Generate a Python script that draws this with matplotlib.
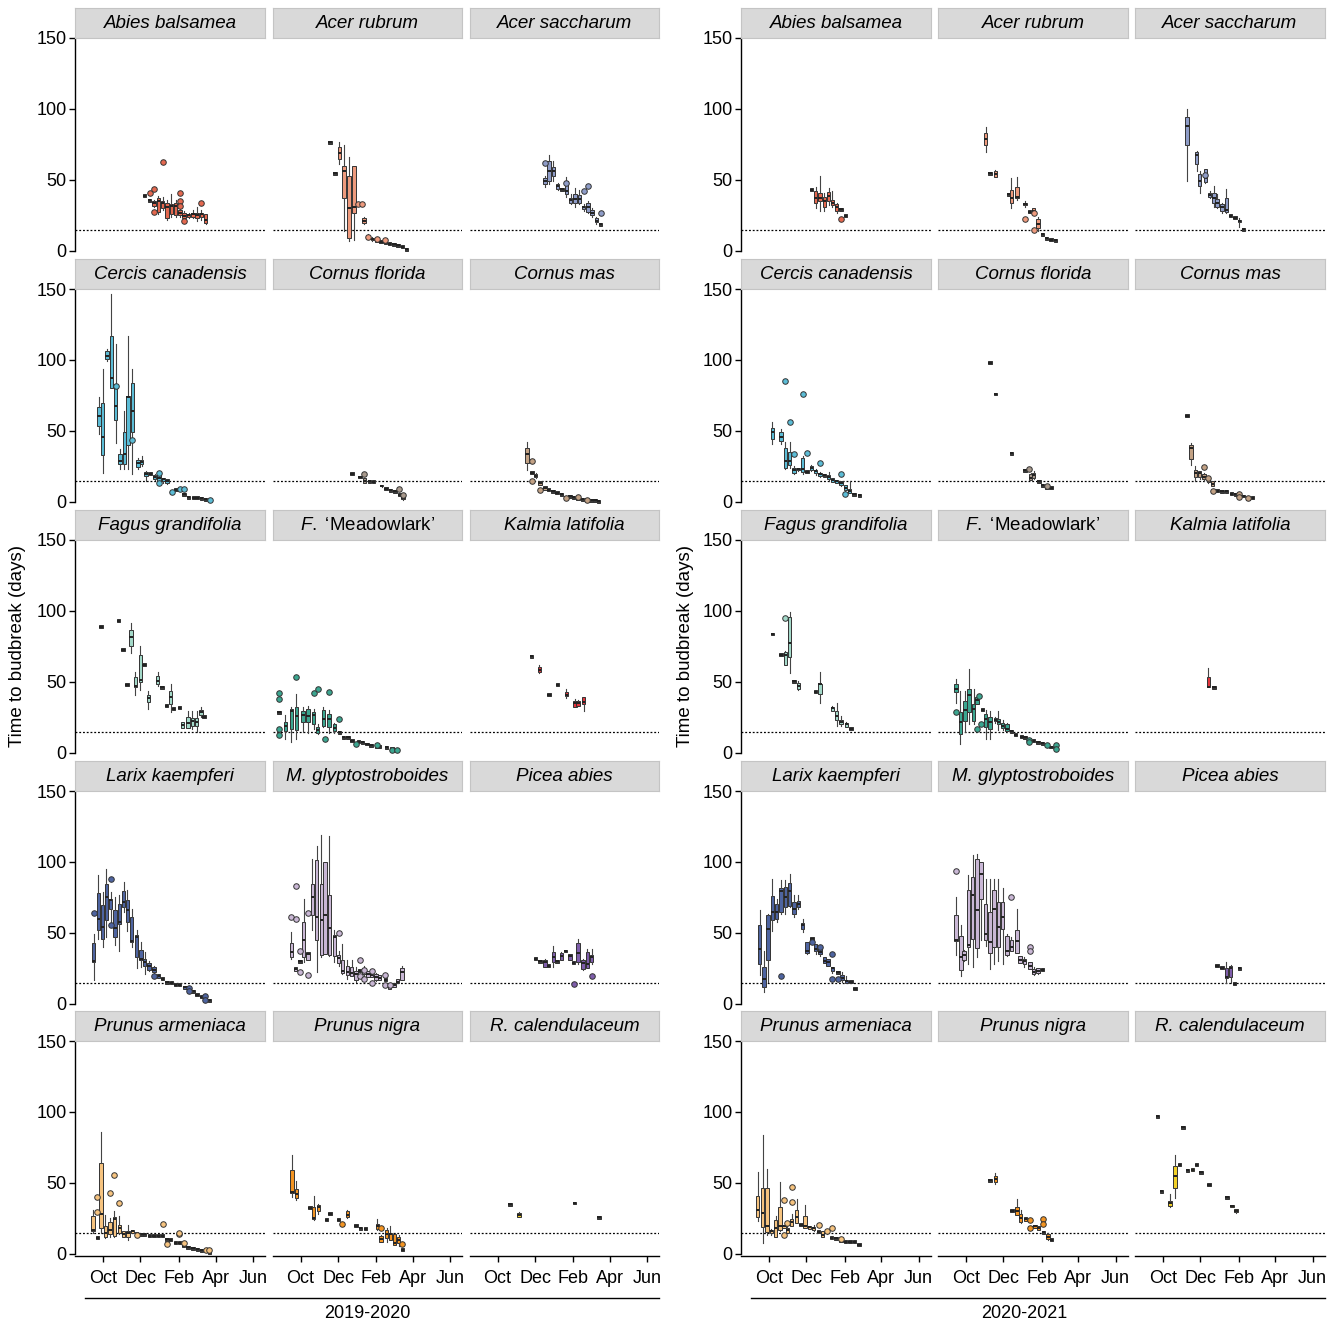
import matplotlib.pyplot as plt
from matplotlib.lines import Line2D

plt.rcParams['font.family'] = ['Liberation Sans', 'DejaVu Sans']
plt.rcParams['mathtext.fontset'] = 'custom'
plt.rcParams['mathtext.it'] = 'Liberation Sans:italic'
plt.rcParams['mathtext.rm'] = 'Liberation Sans'

# ---- data: day since Oct 1; (day, med) or (day, lo, q1, med, q3, hi); outliers (day, value)
species = ["Abies balsamea", "Acer rubrum", "Acer saccharum",
           "Cercis canadensis", "Cornus florida", "Cornus mas",
           "Fagus grandifolia", r"$\mathit{F.}$ ‘Meadowlark’", "Kalmia latifolia",
           "Larix kaempferi", "M. glyptostroboides", "Picea abies",
           "Prunus armeniaca", "Prunus nigra", "R. calendulaceum"]
colors = ["#E4684F", "#EE9A7D", "#8E9CC8",
          "#5BBCD6", "#A8998C", "#C2A184",
          "#A3D9C9", "#3BA690", "#E3343C",
          "#4E64A0", "#C9B7D5", "#7E5DAA",
          "#F6C37F", "#F39422", "#F2D027"]
seasons = ["2019-2020", "2020-2021"]
month_labels = ["Oct", "Dec", "Feb", "Apr", "Jun"]
month_days = {"2019-2020": [0, 61, 123, 183, 244], "2020-2021": [0, 61, 123, 182, 243]}
threshold = 15

abies_1920 = [(68, 38.8), (76, 35.7), (83, 31, 31.5, 33.4, 35, 36), (90, 26, 27.7, 35.3, 37.6, 39),
              (97, 29, 30, 34, 35, 38), (104, 22, 23.5, 30.6, 34, 36), (111, 24, 26, 31.7, 33, 40),
              (118, 24, 25, 31.7, 34, 36), (125, 24, 25, 27, 29, 31), (132, 22, 23.5, 24.7, 27, 28),
              (139, 23, 24, 25, 26, 27), (146, 23, 24, 25.9, 27, 29), (153, 21, 23, 25, 27, 31),
              (160, 22, 24, 25.9, 27, 29), (167, 18.8, 19.5, 22, 25.9, 26)]
abies_1920_out = [(76, 40.7), (83, 43.5), (83, 27.7), (97, 62.8), (125, 40.7), (125, 35.3),
                  (125, 31.7), (132, 21.2), (160, 33.4)]
acru_1920 = [(48, 76.6), (56, 54.8), (63, 61, 64.7, 68.9, 72.9, 76.4), (71, 14, 37.6, 56.4, 59.5, 74.5),
             (79, 7, 9.4, 30, 52.9, 65.8), (87, 8, 27, 31, 60, 60), (103, 18.8, 19.5, 21.2, 23.5, 24),
             (110, 8.5, 9, 9.9, 10.5, 12), (117, 7, 7.5, 8.2, 9, 10), (124, 6, 6.5, 7.5, 8, 9),
             (131, 6.5), (138, 6), (145, 5), (152, 4.5), (159, 4), (166, 2.8), (173, 1.2)]
acru_1920_out = [(94, 33), (100, 33), (110, 10), (124, 8.5), (138, 8)]
acsa_1920 = [(77, 45, 47, 49, 51.7, 53), (84, 47, 49.4, 56.4, 63, 67.7), (91, 49.4, 52.9, 56.4, 58.8, 63),
             (98, 43, 43.5, 45.4, 47, 48), (105, 43.5), (112, 38, 40.4, 42.3, 49.4, 52),
             (119, 33, 34, 35.7, 37.6, 40), (126, 31, 34, 36.4, 40.4, 44), (133, 33, 34, 36.4, 39.5, 43),
             (140, 28, 29.4, 30.6, 31.7, 33), (147, 27, 27.5, 30.6, 34, 35), (154, 24, 25, 27, 29, 30),
             (161, 19, 20, 21, 23.5, 24), (168, 18.8)]
acsa_1920_out = [(77, 61.8), (112, 47.5), (140, 42.3), (147, 45.8), (168, 27)]

cercis_1920 = [(-6, 47.7, 53.6, 60.2, 67, 73.7), (0, 20.6, 33, 45.8, 69.5, 93.8), (7, 99, 101, 103, 106, 108),
               (14, 80, 80.3, 87.4, 116.7, 146.5), (21, 41.8, 57.6, 67.8, 82.7, 111), (28, 23, 27, 28.8, 33.5, 37),
               (35, 23, 26.5, 34, 48.9, 64), (41, 23, 40, 73.7, 74.9, 116.7), (48, 19.4, 48.9, 63.8, 83.9, 93.8),
               (57, 23, 24.6, 27.6, 29.3, 31), (63, 25, 26.5, 28.3, 29.5, 32), (70, 14.5, 18.2, 19.8, 21.3, 22),
               (77, 19.8), (84, 15.5, 16, 17.5, 19, 19.5), (91, 13.5, 13.5, 16.5, 20.6, 21),
               (98, 13.5, 14.5, 15.8, 17, 17), (104, 12.5, 13, 14.5, 16, 16), (112, 6.9), (119, 7.5, 8, 8.7, 10, 10),
               (125, 8.7, 8.7, 9.2, 10, 10), (132, 5.2), (139, 3.3), (147, 2.9), (153, 2.9), (160, 2.4), (167, 1.7)]
cercis_1920_out = [(21, 81.3), (48, 43.7), (91, 20.6), (91, 13.5), (112, 6.9), (125, 9.2), (132, 9.2), (174, 1.4)]
cofl_1920 = [(84, 19.8), (97, 17.5), (104, 13.5, 13.5, 14.6, 16.5, 17), (112, 14.6), (119, 14.2),
             (132, 10.5, 11, 11.1, 12, 12), (139, 9.2), (146, 8.3), (154, 7.6), (161, 4, 4, 5, 6.4, 6.4),
             (167, 1.5, 2, 3, 5, 5.5)]
cofl_1920_out = [(104, 19.8), (161, 9.4), (167, 4.5)]
coma_1920 = [(48, 22.2, 27.6, 34, 37.8, 42.5), (56, 20.5), (62, 16.5, 17.5, 18.5, 19.8, 20),
             (69, 11.8, 11.8, 13, 14.6, 14.6), (77, 8.7, 8.7, 10, 11, 11), (83, 8.7), (90, 7.6), (97, 6.4),
             (104, 5.2), (111, 3.3), (118, 4), (124, 3.3), (131, 2.4), (138, 1.7), (145, 1.7), (152, 1.2),
             (159, 1), (164, 0.5)]
coma_1920_out = [(56, 28.8), (56, 14.6), (69, 8.3), (111, 2.4), (131, 3.3), (145, 1.2)]

fagus_1920 = [(-3, 89), (26, 93.2), (33, 72.8), (39, 48.1), (46, 70.2, 75.6, 81.5, 86.9, 91.5),
              (53, 41, 46.2, 47.4, 53.3, 56.8), (61, 44, 49.8, 51.4, 69.2, 75.6), (67, 62),
              (74, 31, 35.7, 38.7, 41, 43.9), (89, 47, 48.6, 50.9, 54, 56.8), (96, 46.2), (103, 33.3),
              (110, 29, 34.5, 39.2, 43.9, 48.6), (115, 31), (124, 31.7), (129, 17.6, 17.6, 19.7, 21.6, 21.6),
              (138, 17.6, 17.6, 21, 25.6, 29.8), (145, 17, 19.2, 22.3, 24.6, 29.8),
              (152, 14.6, 19.2, 22, 24.6, 29.8), (159, 25.5, 27, 28.6, 30.3, 32), (164, 25.6)]
fagus_1920_out = []
mead_1920 = [(-35, 28.6), (-25, 9.9, 15.3, 19.2, 21.6, 27), (-15, 7.5, 16.9, 29.3, 31, 32),
             (-7, 9.9, 16.2, 26.3, 32, 41.5), (4, 15, 21.6, 27, 29.8, 32), (12, 14, 21.6, 26.3, 31, 33),
             (21, 17, 20, 27, 29, 31), (28, 13, 13.8, 16.2, 18.5, 20), (37, 18, 19.2, 23.9, 30.3, 32),
             (46, 14, 18, 23.9, 27.5, 30), (55, 14, 15.7, 17.5, 20.4, 21), (63, 14.6), (70, 11), (77, 11),
             (84, 8.7), (94, 8), (101, 7.5), (108, 6.3), (115, 5.2), (124, 4.5), (129, 4.5), (140, 4),
             (149, 2.8), (157, 1.5, 1.8, 2.1, 2.5, 2.8)]
mead_1920_out = [(-35, 42), (-35, 38), (-35, 16.9), (-35, 12.9), (-7, 53.8), (21, 42), (28, 45),
                 (39, 9.9), (47, 42.7), (63, 24), (91, 5.9), (124, 5.2), (149, 2.1), (157, 2.1)]
kalmia_1920 = [(55, 68), (68, 56, 56.8, 58.5, 60.3, 62), (84, 41), (98, 48.1), (112, 39, 40.4, 41, 42.7, 45),
               (126, 32.2, 32.2, 35, 36.4, 38), (131, 33.3, 33.3, 35, 36.9, 37), (140, 29.8, 34.5, 35.5, 39.2, 39.2)]
kalmia_1920_out = []

larix_1920 = [(-15, 17, 29.4, 29.9, 42.8, 49), (-7, 45.9, 52.2, 60, 78, 91), (0, 40, 45.9, 54, 69.4, 78.8),
              (6, 47, 58.8, 75.3, 84.7, 95.3), (13, 55, 67, 73.4, 74, 79), (20, 41.2, 47, 53.6, 65.9, 75.3),
              (27, 37.2, 56.5, 57.6, 70.6, 77), (34, 65, 68.2, 71.8, 79.3, 86), (40, 51.3, 57.6, 66.4, 73, 80),
              (47, 40, 43.5, 44, 61.2, 67), (55, 25, 33, 47, 48.2, 52), (62, 26, 30.6, 31.8, 38.1, 43.5),
              (68, 21, 26.4, 29.4, 31.8, 36.5), (75, 23, 24, 27, 28.7, 30), (83, 20, 22.4, 24, 26, 27),
              (90, 18.4, 18.4, 19.5, 21.2, 21.2), (97, 17.6), (104, 15.3), (111, 14.8), (118, 13.6),
              (124, 13.4), (133, 10.6, 10.6, 12, 12.9, 12.9), (139, 8.5, 8.5, 10, 11.5, 11.5), (146, 8.9),
              (153, 6.6), (161, 4.2, 4.2, 5, 5.9, 5.9), (173, 2.4)]
larix_1920_out = [(-15, 64.2), (13, 88.2), (13, 55.3), (83, 19.3), (139, 11.3), (139, 9.4), (166, 5.2), (166, 2.8)]
glypto_1920 = [(-15, 31.8, 33, 36.5, 42.8, 50.6), (-8, 23, 23, 24.7, 25.9, 25.9), (-1, 30.1),
               (5, 29.4, 33, 45.2, 57.6, 74), (12, 31, 31, 35.3, 36.5, 36.5), (19, 51.8, 62.4, 75.3, 84.2, 102),
               (26, 22.4, 45.2, 61.2, 101.6, 111), (34, 33, 34.1, 59.3, 84.7, 118.8), (40, 35, 35.3, 62.4, 100, 100),
               (47, 34, 34.1, 53.6, 76.5, 118), (55, 29.4, 33.4, 47, 48.2, 52), (62, 27, 28.7, 32, 34.1, 37.6),
               (68, 21.2, 21.6, 23, 30.6, 41.9), (76, 17.6, 20, 22.4, 26.4, 30.6), (83, 19.3, 19.3, 21.5, 26, 30.6),
               (90, 15.3, 16.9, 21, 23.5, 25.9), (96, 23.5), (103, 16.5, 21.2, 23, 24.7, 27),
               (110, 18.8, 18.8, 21, 23.5, 23.5), (116, 18.8, 18.8, 20, 21.2, 21.2), (123, 16, 16.5, 18.8, 21.2, 22),
               (129, 16.5, 16.5, 18, 20, 20), (138, 16.9), (145, 10.6, 10.6, 12, 14.6, 14.6),
               (152, 11.8, 11.8, 13, 14.6, 14.6), (158, 14.6, 14.6, 15.5, 17.6, 17.6), (165, 16.5, 16.5, 22.4, 25.4, 27)]
glypto_1920_out = [(-15, 61.2), (-8, 60), (-8, 83), (-1, 37.2), (-1, 22.4), (12, 64.2), (12, 20), (62, 50),
                   (96, 30.6), (96, 19.3), (103, 24.2), (103, 17.6), (116, 23.5), (116, 14.6), (138, 20),
                   (138, 13), (145, 13.6)]
picea_1920 = [(62, 31.8), (69, 30.1), (77, 25.9, 25.9, 29.4, 30.6, 31.8), (83, 27), (91, 25.9, 29.4, 33, 36.5, 41),
              (97, 30.1), (104, 30.6, 31, 33.4, 35.8, 36.5), (111, 37.2), (118, 31, 31, 33.4, 35.3, 35.3),
              (124, 27.8, 27.8, 28.5, 30.1, 30.1), (131, 28.2, 29.4, 35.8, 42.8, 45.9),
              (139, 24, 24.7, 28.5, 30.6, 31.8), (146, 25.4, 25.4, 28.2, 36.5, 38.8),
              (153, 28.2, 29.4, 33, 34.1, 38.8)]
picea_1920_out = [(124, 14.1), (153, 19.3)]

prar_1920 = [(-16, 15, 15.8, 17, 26.4, 31), (-9, 11.5), (-3, 15, 18.1, 28.2, 64, 86), (4, 11, 11.8, 15, 19.3, 27.5),
             (12, 12, 14.1, 17, 22.8, 25), (19, 11.8, 12.7, 24.5, 25.9, 30), (27, 14, 15, 18.1, 20.5, 26.8),
             (34, 11.8, 11.8, 14, 15.8, 15.8), (41, 10, 11.8, 15, 16, 20), (48, 14.6, 14.6, 15.8, 17, 17),
             (55, 14.1), (62, 13.8), (68, 13.8), (76, 12.9), (83, 12.9), (90, 12.7), (97, 12.7), (104, 10.4),
             (110, 9.9), (118, 8), (124, 8), (131, 5.6), (138, 4.7), (146, 4), (154, 3.3), (160, 2.4), (173, 1.2)]
prar_1920_out = [(-9, 40), (-9, 29.2), (12, 42.8), (19, 55.8), (27, 35.8), (55, 13), (97, 20.9), (104, 6.8),
                 (124, 14.1), (124, 15), (131, 8), (167, 2.4), (173, 2.4)]
prni_1920 = [(-14, 40, 42.8, 43.5, 58.8, 69.9), (-7, 38, 39.3, 42.4, 45.6, 51.5), (15, 31.5, 31.5, 32.5, 33.4, 33.4),
             (21, 24, 24.5, 25.5, 32.9, 40.5), (29, 28.2, 30.5, 32.9, 34.5, 35), (42, 24), (48, 28.2), (62, 24),
             (68, 19.8, 19.8, 21, 22.1, 22.1), (76, 25, 25.9, 27.5, 29.9, 31), (90, 19.8), (98, 18.1), (106, 17.6),
             (125, 17, 17.4, 19.8, 21.2, 24.5), (131, 8.5, 8.7, 10.5, 12.7, 13), (140, 8.7, 11, 14.1, 17, 18.1),
             (146, 9.9, 9.9, 14.1, 14.6, 19.3), (153, 6.4, 6.4, 8, 14.1, 14.6), (160, 5.6, 7.5, 9.9, 11.8, 13.6),
             (166, 2.8)]
prni_1920_out = [(68, 21.2), (131, 18.1), (166, 6.8)]
rhca_1920 = [(20, 35), (35, 25.9, 25.9, 27.3, 28.7, 29.5), (125, 35.8), (165, 25.9)]
rhca_1920_out = []

abies_2021 = [(69, 43), (76, 30, 34, 37.6, 42.3, 45), (83, 28, 35.3, 37.6, 41, 53), (90, 28, 31, 35.3, 38, 41),
              (97, 32, 34.8, 38.8, 41.8, 44), (103, 31, 32, 34, 36, 42), (110, 27, 28.2, 30.6, 32.9, 34),
              (117, 29.4), (124, 24.7)]
abies_2021_out = [(117, 22.3)]
acru_2021 = [(32, 70, 74.5, 78.8, 82.8, 87.5), (39, 54.8), (48, 52, 52.2, 54, 56, 57), (69, 40),
             (74, 30, 33.4, 37.6, 42.8, 51), (83, 36, 37, 38, 45, 52), (96, 31, 32, 33, 34, 35), (103, 27.5),
             (110, 25.9, 26, 28, 30, 30), (117, 14, 16, 18.8, 22.3, 24), (124, 11.8), (131, 8.9), (138, 8), (145, 7.5)]
acru_2021_out = [(96, 22.3), (110, 27), (110, 14.6)]
acsa_2021 = [(39, 49.4, 74.8, 88.2, 94, 100), (55, 56, 61.1, 67.7, 69.4, 70.5), (60, 41, 45.8, 49.4, 54, 56.4),
             (69, 48, 48.2, 51, 57.6, 58), (76, 37, 38, 39.5, 41, 42), (83, 31, 34, 37.6, 41, 45.5),
             (88, 30, 31, 34, 36.5, 40), (96, 27, 28.2, 30.6, 32.9, 34), (103, 27, 27.5, 29, 37.6, 43.5),
             (110, 24.7), (117, 23.5), (124, 17, 20, 21.2, 22, 23), (131, 15.3)]
acsa_2021_out = [(69, 53.6)]

cercis_2021 = [(6, 40.6, 44.2, 48.9, 52, 56), (20, 40.6, 43, 46, 48.9, 51), (27, 23, 23.6, 28.8, 37.8, 42),
               (34, 24, 26, 28.8, 35.4, 42), (41, 19.5, 20.6, 22.2, 24, 25), (48, 22, 22.3, 23, 23.6, 24),
               (55, 19.5, 21.3, 23, 31, 32), (62, 21.3), (69, 22, 22.3, 23.6, 25, 26), (76, 19, 20, 21.7, 22.5, 23),
               (83, 17.5, 18, 19.8, 20.6, 21), (90, 18.7), (97, 15, 16, 17.5, 18.7, 21),
               (103, 14.2, 14.2, 15.5, 16.5, 16.5), (110, 13, 13.5, 14.6, 15.5, 15.5), (117, 11, 12, 13.5, 14.5, 15),
               (124, 8, 8.5, 10, 11.8, 12), (131, 6.4, 6.4, 7.5, 9.4, 15), (138, 5.2), (147, 4.5)]
cercis_2021_out = [(27, 85), (34, 56), (41, 34), (55, 76), (62, 34.7), (83, 27.6), (117, 19.8), (124, 5.2)]
cofl_2021 = [(39, 98), (48, 76), (74, 34.3), (96, 22.4), (105, 15.1, 15.1, 16.5, 19.8, 20.5),
             (110, 16, 17, 18.8, 20.5, 22), (119, 14.6), (124, 11.8), (131, 10.4), (138, 9.9)]
cofl_2021_out = [(103, 23), (131, 11)]
coma_2021 = [(39, 60.7), (46, 26, 30, 37.8, 40, 41.8), (53, 15, 17.5, 20.5, 22.2, 25), (60, 16, 17.5, 20.5, 21.5, 22),
             (67, 15, 15.8, 17.5, 19.4, 20), (74, 13, 14, 15.8, 16.5, 17), (81, 11, 11.5, 12.8, 14.5, 15), (88, 8),
             (96, 7.6), (103, 7.6), (111, 5.7), (118, 5.2), (124, 4, 4.5, 5, 6.4, 6.4), (131, 4.1), (138, 2.4),
             (145, 2.8)]
coma_2021_out = [(67, 24.6), (74, 16.5), (81, 8), (124, 5.7), (124, 3.3), (138, 2.4)]

fagus_2021 = [(6, 83.8), (20, 69.2), (27, 62.2, 62.2, 69.2, 70.9, 72), (34, 56, 67.4, 77.2, 95.5, 99), (41, 50.5),
              (48, 44, 45, 47, 49, 50.5), (76, 43.2), (83, 35, 41.5, 48.6, 48.6, 56.8),
              (103, 29.8, 29.8, 31.5, 32.6, 33), (110, 19, 23.2, 26, 29.3, 35), (117, 19, 20.4, 21.5, 23.2, 26),
              (126, 18, 18.5, 20.4, 21, 22), (133, 16.9)]
fagus_2021_out = [(27, 95)]
mead_2021 = [(-16, 35, 42.7, 45, 48.6, 52), (-9, 6.3, 13.4, 21.6, 28.6, 43.9), (-1, 15, 22.8, 30.3, 36.8, 43.9),
             (5, 20.4, 28.6, 41, 45, 59), (13, 20, 22.8, 31, 34.5, 45), (18, 34.5, 34.5, 37.3, 39.2, 39.2), (27, 30.3),
             (32, 10, 18, 23.9, 27.5, 30), (39, 10, 16.9, 22, 25, 29.8), (48, 21, 22.3, 23, 24.6, 25),
             (53, 16, 20, 22, 24, 29.8), (60, 16, 17.5, 19.2, 21, 23), (67, 15, 15.7, 17, 20.4, 21), (74, 15.3),
             (81, 12.9), (90, 11.5), (96, 11), (103, 6.8, 6.8, 8.7, 10.6, 10.6), (110, 8.7), (117, 7.5), (124, 6.8),
             (131, 4.5, 4.5, 5, 5.9, 5.9), (138, 3.5, 3.5, 4.2, 5, 5), (147, 2.1, 2.1, 3.5, 5.9, 5.9)]
mead_2021_out = [(-16, 29), (22, 40.4), (18, 16.9), (25, 20.5), (103, 9), (103, 7.5), (131, 5.2), (147, 5.2),
                 (147, 2.8)]
kalmia_2021 = [(74, 46.2, 46.2, 46.7, 53.3, 59.9), (83, 46.2)]
kalmia_2021_out = []

larix_2021 = [(-15, 20, 28.2, 38.8, 55.3, 65.8), (-8, 8.2, 11.8, 17.6, 26.3, 37.6), (-1, 15.3, 30.6, 52.9, 62.3, 63),
              (6, 51.7, 58.8, 64.7, 75.7, 88.2), (13, 58, 60, 64.7, 70.5, 74), (20, 63.5, 64.7, 79.5, 81.8, 87),
              (27, 63.5, 68.2, 75.2, 82.3, 87), (34, 68, 68.7, 79.5, 85, 91.7), (41, 61.5, 63.5, 67, 71.7, 76.5),
              (48, 67, 68.2, 70.5, 72.8, 76.5), (55, 50.6, 52.9, 55.3, 57, 59.5), (62, 35, 35.7, 37.6, 43.5, 43.5),
              (70, 45.8), (76, 35, 37.1, 38.8, 42.3, 42.3), (83, 33.4, 35.3, 36.6, 40, 40),
              (90, 28.7, 28.7, 30.5, 32.9, 32.9), (96, 26.5, 27, 29.2, 31.7, 31.7), (103, 22, 23.5, 25, 26.3, 26.3),
              (112, 22.3), (119, 15.5, 16.5, 18, 20, 22.5), (126, 14.5, 14.6, 16, 17, 19.5),
              (133, 14.6, 14.6, 15.5, 16.9, 16.9), (140, 10.6)]
larix_2021_out = [(20, 19.3), (70, 43.5), (83, 40.4), (103, 35.3), (103, 17.6), (112, 17.6)]
glypto_2021 = [(-16, 34.1, 44, 44.7, 62.3, 75), (-8, 19.3, 24, 32.9, 48, 55.3), (-3, 30, 30.6, 34.1, 37.6, 38),
               (4, 28.2, 40, 41.2, 80, 90.5), (11, 26.3, 45.8, 76.4, 89.4, 104.7), (18, 33, 39.5, 65.8, 102.3, 105.5),
               (25, 45, 74, 91.7, 100, 100), (32, 41, 45.1, 49.4, 70.5, 88), (39, 24.7, 35.8, 43.5, 65, 88.2),
               (46, 28.2, 40, 67, 80, 88), (53, 30, 40, 54.1, 71.7, 88), (60, 28, 52.9, 61.1, 71.7, 82),
               (67, 34, 34.1, 37.6, 47.5, 49), (74, 37, 37.6, 40, 45, 47), (83, 35.7, 35.7, 44, 52.2, 67),
               (88, 28.7, 28.7, 31, 33.4, 33.4), (95, 26, 28.2, 30, 31.7, 33), (104, 24.7, 24.7, 27, 29.4, 29.4),
               (110, 20, 21.2, 22.5, 24.7, 26), (117, 21, 22, 23, 25, 25.5), (124, 24)]
glypto_2021_out = [(-16, 93.3), (74, 75.2), (104, 40.4), (104, 37.1)]
picea_2021 = [(88, 27), (96, 24.5, 24.5, 25.4, 27, 27), (103, 14.6, 18.3, 19, 25.4, 29.4),
              (110, 14.6, 18.8, 25.5, 27, 27.5), (116, 14.1), (124, 25.2)]
picea_2021_out = []

prar_2021 = [(-18, 23.5, 25.9, 31, 41, 57.6), (-10, 8, 18.8, 28.7, 46.4, 84), (-3, 13.4, 15.1, 19.3, 46.4, 59.8),
             (4, 13.5, 15, 16, 17, 17.5), (11, 11.8, 11.8, 18, 24, 26.5), (18, 15.8, 17, 19.3, 33, 50.6),
             (25, 18.1, 18.1, 19.3, 20.5, 20.5), (30, 15, 15, 16.5, 18.1, 20), (37, 19.3, 19.3, 22.5, 24.5, 28),
             (45, 21.6, 21.6, 25.9, 30.6, 38.7), (52, 19.5, 19.5, 20.5, 21.6, 21.6), (59, 18.1, 18.1, 19.3, 26.4, 34.6),
             (66, 17.5, 17.5, 18.8, 19.8, 19.8), (73, 16, 17, 18, 19, 20), (81, 14.6, 14.6, 15.5, 17, 17),
             (87, 11.8, 11.8, 13.5, 15.8, 15.8), (95, 14, 14.6, 15.5, 17, 17), (102, 10.4, 10.4, 11.5, 12.7, 12.7),
             (109, 11), (117, 9.5), (124, 8.7), (132, 8.7), (139, 8.7), (146, 6.4)]
prar_2021_out = [(25, 38.1), (25, 13.2), (30, 22.1), (37, 47), (37, 36.2), (81, 20.5), (95, 15.8), (102, 18.1),
                 (117, 10.4)]
prni_2021 = [(39, 51.8), (48, 49.5, 50.4, 52.7, 54.6, 57), (75, 30.4), (83, 27.5, 27.5, 30.4, 33, 38.6),
             (89, 21.5, 22.8, 25.4, 28.2, 30.6), (97, 23.5, 23.5, 24.5, 25.9, 25.9), (104, 16.9, 16.9, 18.5, 19.8, 19.8),
             (112, 18.1, 18.1, 19.3, 20.5, 20.5), (118, 16.5, 16.5, 18, 19.8, 19.8), (126, 15.1),
             (133, 9.5, 10.4, 12, 14.1, 14.8), (139, 9.9)]
prni_2021_out = [(104, 24), (104, 18), (126, 24.5), (126, 21.2)]
rhca_2021 = [(-9, 97), (-2, 44), (12, 33, 33.9, 35.5, 37.6, 42.5), (20, 39.3, 46.4, 54.6, 62.1, 69.9), (27, 62.8),
             (33, 89.2), (40, 58.8), (48, 58.1, 58.1, 59, 60.5, 60.5), (55, 62.8), (62, 57.6), (75, 48.7), (104, 40),
             (112, 33, 33, 33.8, 34.6, 34.6), (119, 28.5, 29.2, 30.3, 31.5, 31.5)]
rhca_2021_out = []

boxes = {
    "2019-2020": [abies_1920, acru_1920, acsa_1920, cercis_1920, cofl_1920, coma_1920, fagus_1920, mead_1920,
                  kalmia_1920, larix_1920, glypto_1920, picea_1920, prar_1920, prni_1920, rhca_1920],
    "2020-2021": [abies_2021, acru_2021, acsa_2021, cercis_2021, cofl_2021, coma_2021, fagus_2021, mead_2021,
                  kalmia_2021, larix_2021, glypto_2021, picea_2021, prar_2021, prni_2021, rhca_2021],
}
outliers = {
    "2019-2020": [abies_1920_out, acru_1920_out, acsa_1920_out, cercis_1920_out, cofl_1920_out, coma_1920_out,
                  fagus_1920_out, mead_1920_out, kalmia_1920_out, larix_1920_out, glypto_1920_out, picea_1920_out,
                  prar_1920_out, prni_1920_out, rhca_1920_out],
    "2020-2021": [abies_2021_out, acru_2021_out, acsa_2021_out, cercis_2021_out, cofl_2021_out, coma_2021_out,
                  fagus_2021_out, mead_2021_out, kalmia_2021_out, larix_2021_out, glypto_2021_out, picea_2021_out,
                  prar_2021_out, prni_2021_out, rhca_2021_out],
}

# ---- layout (pixels)
W, H = 1341, 1327
fig = plt.figure(figsize=(W / 100, H / 100), dpi=100)
block_cols = {"2019-2020": [(75, 265), (273, 462), (470, 659)],
              "2020-2021": [(741, 931), (938, 1128), (1135, 1325)]}
row_tops = [38, 289, 540, 791, 1041]
panel_h = 215
strip_h = 30
edge = "#333333"


def px_axes(x0, y0, x1, y1):
    return fig.add_axes([x0 / W, 1 - y1 / H, (x1 - x0) / W, (y1 - y0) / H])


def to_stats(rec):
    if len(rec) == 2:
        d, m = rec
        return d, dict(med=m, q1=m - 1.0, q3=m + 1.0, whislo=m - 1.0, whishi=m + 1.0, fliers=[])
    d, lo, q1, m, q3, hi = rec
    return d, dict(med=m, q1=q1, q3=q3, whislo=lo, whishi=hi, fliers=[])


for season in seasons:
    for i, name in enumerate(species):
        r, c = divmod(i, 3)
        x0, x1 = block_cols[season][c]
        top = row_tops[r]
        ax = px_axes(x0, top, x1, top + panel_h)
        sax = px_axes(x0, top - strip_h, x1, top)

        # strip
        sax.set_facecolor("#D9D9D9")
        sax.set_xticks([])
        sax.set_yticks([])
        for sp in sax.spines.values():
            sp.set_color("#C4C4C4")
            sp.set_linewidth(0.8)
        style = "normal" if "Meadowlark" in name else "italic"
        sax.text(0.5, 0.47, name, ha="center", va="center", fontsize=13.5, style=style,
                 transform=sax.transAxes)

        col = colors[i]
        ax.axhline(threshold, color="black", ls=(0, (1.5, 1.5)), lw=0.9, zorder=1)
        recs = boxes[season][i]
        pos, stats = zip(*[to_stats(rec) for rec in recs])
        art = ax.bxp(list(stats), positions=list(pos), widths=5.5, patch_artist=True, showfliers=False,
                     showcaps=False, manage_ticks=False,
                     boxprops=dict(facecolor=col, edgecolor=edge, linewidth=0.7),
                     whiskerprops=dict(color="#444444", linewidth=0.8),
                     medianprops=dict(color="#222222", linewidth=1.4))
        # single-value dates show as dark dots
        for rec, patch in zip(recs, art["boxes"]):
            if len(rec) == 2:
                patch.set_facecolor("#3A3A3A")
        outs = outliers[season][i]
        if outs:
            ox, oy = zip(*outs)
            ax.plot(ox, oy, "o", ms=4, mfc=col, mec=edge, mew=0.7, ls="none", zorder=3)

        ax.set_xlim(-45, 263)
        ax.set_ylim(-1.5, 150)
        ax.patch.set_alpha(0)
        for sp in ("top", "right"):
            ax.spines[sp].set_visible(False)
        if c == 0:
            ax.spines["left"].set_bounds(0, 150)
            ax.spines["left"].set_linewidth(1.0)
            ax.set_yticks([0, 50, 100, 150])
            ax.tick_params(axis="y", length=4, width=1.0, labelsize=13, pad=2)
        else:
            ax.spines["left"].set_visible(False)
            ax.set_yticks([])
        if r == 4:
            ax.spines["bottom"].set_linewidth(1.0)
            ax.set_xticks(month_days[season])
            ax.set_xticklabels(month_labels)
            ax.tick_params(axis="x", length=4, width=1.0, labelsize=13, pad=6)
        else:
            ax.spines["bottom"].set_visible(False)
            ax.set_xticks([])

# season labels and y labels
for season, (lx0, lx1), tx, yl in [("2019-2020", (85, 659), 367, 18), ("2020-2021", (751, 1325), 1024, 685)]:
    fig.add_artist(Line2D([lx0 / W, lx1 / W], [1 - 1298 / H, 1 - 1298 / H], color="black", lw=1.0))
    fig.text(tx / W, 1 - 1314 / H, season, ha="center", va="center", fontsize=13)
    fig.text(yl / W, 1 - 646 / H, "Time to budbreak (days)", rotation=90, ha="center", va="center", fontsize=13.5)

fig.savefig("out.png", dpi=100)
